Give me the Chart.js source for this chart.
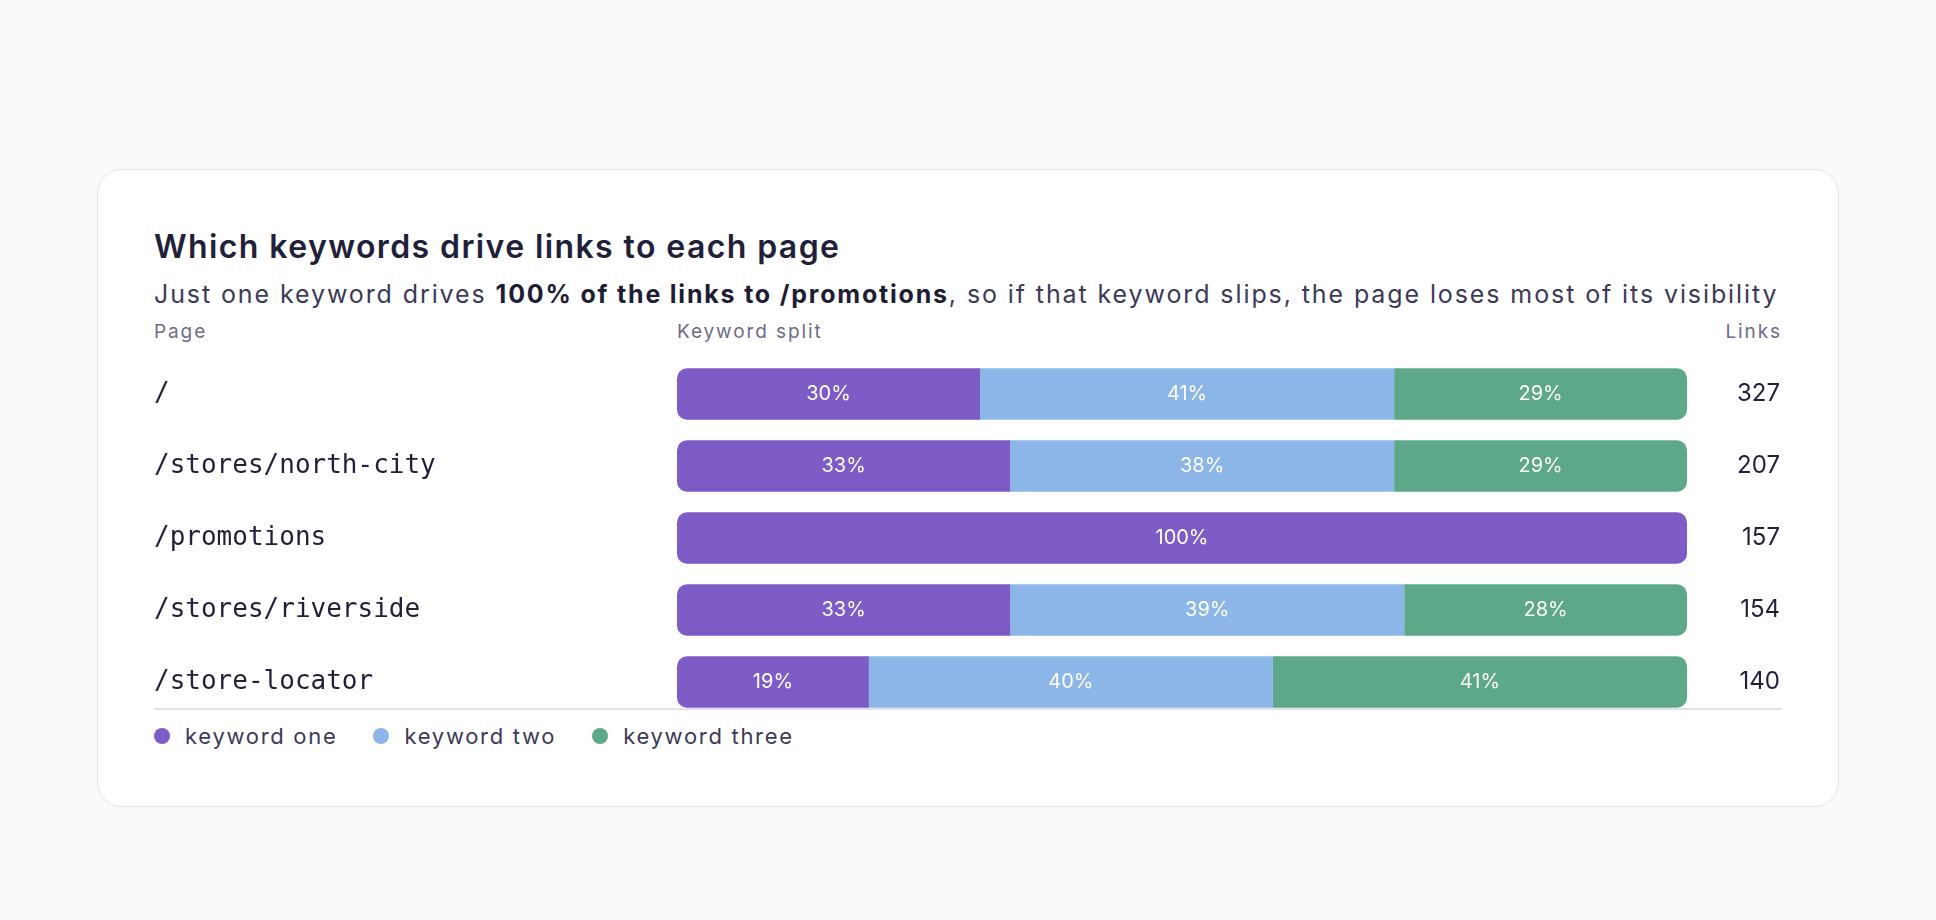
<!DOCTYPE html>
<html>
<head>
<meta charset="utf-8">
<script src="https://cdn.jsdelivr.net/npm/chart.js@4.4.1/dist/chart.umd.min.js"></script>
<style>
  html, body { margin:0; padding:0; background:#fafafa; width:1936px; height:920px; overflow:hidden; font-family: Inter, "Noto Sans", sans-serif; }
  .card { position:absolute; left:97px; top:169px; width:1742px; height:638px; box-sizing:border-box; background:#fff; border:1.5px solid #e3e3e7; border-radius:25px; }
  .abs { position:absolute; white-space:nowrap; line-height:1; }
  #title { left:154px; top:231px; font-size:32px; font-weight:600; color:#221f3b; letter-spacing:1.4px; }
  #subtitle { left:154px; top:282px; font-size:25px; font-weight:400; color:#3d3959; letter-spacing:1.9px; }
  #subtitle b { font-weight:700; color:#1f1c36; letter-spacing:1.8px; }
  .hdr { top:322px; font-size:19px; color:#6f6b86; letter-spacing:1.9px; }
  #chartWrap { position:absolute; left:154px; top:358px; width:1626px; height:360px; }
  #rule { position:absolute; left:154px; top:708px; width:1628px; height:2px; background:#e3e3e7; }
  #legend { position:absolute; left:154px; top:724px; height:24px; display:flex; align-items:center; font-size:22px; color:#3d3959; letter-spacing:1.7px; }
  .li { display:flex; align-items:center; margin-right:36px; }
  .dot { width:16px; height:16px; border-radius:50%; margin-right:15px; }
</style>
</head>
<body>
<div class="card"></div>
<div id="title" class="abs">Which keywords drive links to each page</div>
<div id="subtitle" class="abs">Just one keyword drives <b>100% of the links to /promotions</b>, so if that keyword slips, the page loses most of its visibility</div>
<div class="abs hdr" style="left:154px;">Page</div>
<div class="abs hdr" style="left:677px;">Keyword split</div>
<div class="abs hdr" style="right:154px;">Links</div>
<div id="chartWrap"><canvas id="c"></canvas></div>
<div id="rule"></div>
<div id="legend"></div>
<script>
const pages = ["/", "/stores/north-city", "/promotions", "/stores/riverside", "/store-locator"];
const keywordOne = [30, 33, 100, 33, 19];
const keywordTwo = [41, 38, 0, 39, 40];
const keywordThree = [29, 29, 0, 28, 41];
const links = [327, 207, 157, 154, 140];
const seriesNames = ["keyword one", "keyword two", "keyword three"];
const seriesColors = ["#7d5cc7", "#8cb6e8", "#5ea88a"];

const seriesData = [keywordOne, keywordTwo, keywordThree];

function firstNonZero(i) { for (let d = 0; d < seriesData.length; d++) if (seriesData[d][i]) return d; return 0; }
function lastNonZero(i) { for (let d = seriesData.length - 1; d >= 0; d--) if (seriesData[d][i]) return d; return 0; }

const R = 10;
const segLabels = {
  id: 'segLabels',
  afterDatasetsDraw(chart) {
    const ctx = chart.ctx;
    chart.data.datasets.forEach((ds, di) => {
      const meta = chart.getDatasetMeta(di);
      meta.data.forEach((bar, i) => {
        const v = ds.data[i];
        if (!v) return;
        const p = bar.getProps(['x', 'base', 'y'], true);
        ctx.save();
        ctx.fillStyle = '#ffffff';
        ctx.font = '400 20px Inter, "Noto Sans", sans-serif';
        ctx.textAlign = 'center';
        ctx.textBaseline = 'middle';
        ctx.fillText(v + '%', (p.x + p.base) / 2, p.y);
        ctx.restore();
      });
    });
  }
};

function fixAxis(w) {
  return function (a) { a.width = w; a.paddingTop = 0; a.paddingBottom = 0; };
}

new Chart(document.getElementById('c'), {
  type: 'bar',
  data: {
    labels: pages,
    datasets: seriesData.map((d, k) => ({
      label: seriesNames[k],
      data: d,
      backgroundColor: seriesColors[k],
      borderWidth: 0,
      borderSkipped: false,
      categoryPercentage: 1,
      barPercentage: 0.715,
      borderRadius: (c) => {
        const i = c.dataIndex, di = c.datasetIndex;
        const f = firstNonZero(i) === di, l = lastNonZero(i) === di;
        return { topLeft: f ? R : 0, bottomLeft: f ? R : 0, topRight: l ? R : 0, bottomRight: l ? R : 0 };
      }
    }))
  },
  options: {
    indexAxis: 'y',
    responsive: true,
    maintainAspectRatio: false,
    animation: false,
    layout: { padding: 0, autoPadding: false },
    plugins: { legend: { display: false }, tooltip: { enabled: false } },
    scales: {
      x: { stacked: true, min: 0, max: 100, display: false },
      y: {
        stacked: true,
        position: 'left',
        grid: { display: false },
        border: { display: false },
        ticks: { crossAlign: 'far', color: '#221f3b', padding: 0, font: { family: '"DejaVu Sans Mono", monospace', size: 26 } },
        afterFit: fixAxis(523)
      },
      y2: {
        type: 'category',
        labels: links.map(String),
        position: 'right',
        offset: true,
        grid: { display: false },
        border: { display: false },
        ticks: { crossAlign: 'far', color: '#221f3b', padding: 0, font: { family: 'Inter, "Noto Sans", sans-serif', size: 24 } },
        afterFit: fixAxis(93)
      }
    }
  },
  plugins: [segLabels]
});

const lg = document.getElementById('legend');
seriesNames.forEach((n, k) => {
  const it = document.createElement('div');
  it.className = 'li';
  const dot = document.createElement('span');
  dot.className = 'dot';
  dot.style.background = seriesColors[k];
  const t = document.createElement('span');
  t.textContent = n;
  it.appendChild(dot); it.appendChild(t);
  lg.appendChild(it);
});
</script>
</body>
</html>
